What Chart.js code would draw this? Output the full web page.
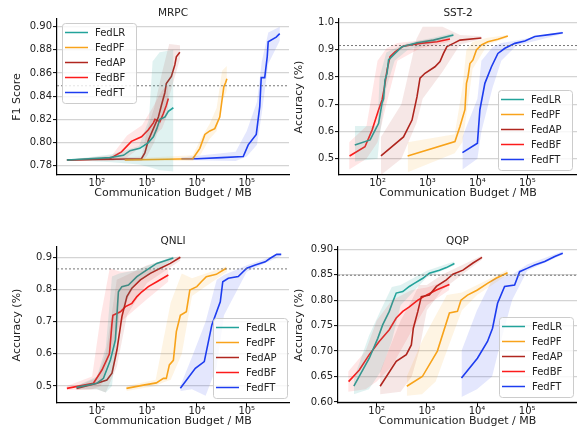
<!DOCTYPE html>
<html>
<head>
<meta charset="utf-8">
<script src="https://cdn.jsdelivr.net/npm/chart.js@4.4.1/dist/chart.umd.min.js"></script>
<style>
  body { margin: 0; background: #fff; }
  .panel { position: absolute; }
</style>
</head>
<body>
<div class="panel" style="left:0px;top:0px"><canvas id="c0" width="290" height="200"></canvas></div>
<div class="panel" style="left:288px;top:0px"><canvas id="c1" width="289" height="200"></canvas></div>
<div class="panel" style="left:0px;top:228px"><canvas id="c2" width="290" height="200"></canvas></div>
<div class="panel" style="left:288px;top:228px"><canvas id="c3" width="289" height="200"></canvas></div>
<script>
// Methods and colours (legend order)
const methods = ["FedLR", "FedPF", "FedAP", "FedBF", "FedFT"];
const lineColors = ["#22a39b", "#f8a31b", "#b0261f", "#fc1b1b", "#1d3df0"];
const bandColors = ["rgba(34,163,155,0.14)", "rgba(248,163,27,0.12)", "rgba(176,38,31,0.11)", "rgba(252,27,27,0.11)", "rgba(29,61,240,0.12)"];

// shared x ticks (MB)
const budgetTicks = [100, 1000, 10000, 100000];
const budgetLabels = ["10\u00b2", "10\u00b3", "10\u2074", "10\u2075"];

// ---------- MRPC ----------
const mrpcBudget = [
  [25, 180, 340, 460, 720, 1070, 1350, 1580, 1820, 2290, 2690, 3390],
  [360, 8300, 11500, 14500, 18200, 22900, 28800, 31600, 34700, 38000, 40000],
  [25, 780, 910, 1070, 1350, 1700, 1950, 2290, 2450, 3090, 3630, 3890, 4570],
  [25, 180, 310, 490, 780, 1070, 1350, 1450, 1820, 2140, 2450, 2690],
  [4900, 10000, 31600, 85000, 107000, 155000, 182000, 195000, 229000, 257000, 269000, 389000, 457000],
];
const mrpcScore = [
  [0.785, 0.787, 0.789, 0.793, 0.795, 0.800, 0.805, 0.812, 0.820, 0.822, 0.827, 0.830],
  [0.785, 0.786, 0.795, 0.807, 0.810, 0.812, 0.822, 0.835, 0.848, 0.852, 0.855],
  [0.785, 0.786, 0.791, 0.802, 0.812, 0.822, 0.832, 0.843, 0.851, 0.857, 0.867, 0.874, 0.878],
  [0.785, 0.786, 0.792, 0.801, 0.805, 0.811, 0.817, 0.820, 0.818, 0.825, 0.832, 0.838],
  [0.786, 0.786, 0.787, 0.788, 0.798, 0.807, 0.831, 0.856, 0.856, 0.874, 0.887, 0.891, 0.894],
];
const mrpcBandBudget = [
  [25, 200, 700, 1100, 1300, 1800, 3400],
  [360, 8300, 12000, 18000, 25000, 32000, 40000],
  [25, 780, 1000, 1400, 2000, 2800, 4600],
  [25, 200, 400, 800, 1300, 2000, 2700],
  [4900, 60000, 100000, 160000, 200000, 270000, 460000],
];
const mrpcBandLow = [
  [0.785, 0.783, 0.781, 0.779, 0.778, 0.776, 0.775],
  [0.784, 0.784, 0.790, 0.803, 0.810, 0.835, 0.845],
  [0.785, 0.784, 0.788, 0.800, 0.820, 0.840, 0.872],
  [0.785, 0.784, 0.787, 0.797, 0.805, 0.812, 0.826],
  [0.785, 0.784, 0.788, 0.798, 0.825, 0.868, 0.888],
];
const mrpcBandHigh = [
  [0.785, 0.790, 0.797, 0.820, 0.870, 0.878, 0.880],
  [0.786, 0.789, 0.803, 0.816, 0.830, 0.862, 0.866],
  [0.785, 0.788, 0.810, 0.830, 0.860, 0.885, 0.884],
  [0.785, 0.789, 0.806, 0.815, 0.830, 0.845, 0.850],
  [0.787, 0.792, 0.810, 0.835, 0.870, 0.895, 0.900],
];
const mrpcTicks = [0.78, 0.80, 0.82, 0.84, 0.86, 0.88, 0.90];
const mrpcTarget = 0.849;

// ---------- SST-2 ----------
const sstBudget = [
  [35, 71, 105, 123, 132, 141, 155, 166, 224, 309, 617, 1320, 3310],
  [400, 3550, 4470, 5620, 6030, 6460, 7080, 8130, 9550, 12000, 16200, 25700, 40700],
  [117, 331, 490, 617, 708, 891, 1410, 1780, 2090, 2450, 3310, 4470, 12000],
  [27.5, 56, 78, 105, 123, 138, 155, 178, 224, 331, 708, 1550, 2820],
  [5010, 10000, 11200, 14100, 19100, 25700, 35500, 56200, 89100, 141000, 302000, 513000],
];
const sstScore = [
  [0.55, 0.569, 0.63, 0.704, 0.72, 0.79, 0.814, 0.863, 0.887, 0.912, 0.926, 0.936, 0.955],
  [0.51, 0.563, 0.618, 0.68, 0.777, 0.80, 0.85, 0.863, 0.90, 0.918, 0.93, 0.939, 0.951],
  [0.51, 0.58, 0.642, 0.728, 0.796, 0.814, 0.838, 0.857, 0.887, 0.912, 0.924, 0.936, 0.944],
  [0.51, 0.544, 0.606, 0.68, 0.716, 0.765, 0.826, 0.875, 0.893, 0.914, 0.924, 0.93, 0.94],
  [0.522, 0.557, 0.68, 0.777, 0.838, 0.887, 0.906, 0.924, 0.933, 0.949, 0.957, 0.963],
];
const sstBandBudget = [
  [35, 100, 110, 150, 220, 400, 1300, 3300],
  [400, 3500, 5000, 6000, 8000, 16000, 40000],
  [117, 300, 600, 800, 2000, 4500, 12000],
  [27, 60, 100, 150, 250, 700, 2800],
  [5000, 10000, 12000, 20000, 30000, 60000, 500000],
];
const sstBandLow = [
  [0.49, 0.50, 0.58, 0.76, 0.86, 0.90, 0.925, 0.948],
  [0.45, 0.52, 0.56, 0.66, 0.83, 0.92, 0.945],
  [0.44, 0.50, 0.63, 0.72, 0.82, 0.92, 0.94],
  [0.46, 0.50, 0.56, 0.70, 0.86, 0.905, 0.93],
  [0.46, 0.50, 0.60, 0.76, 0.86, 0.915, 0.958],
];
const sstBandHigh = [
  [0.62, 0.62, 0.80, 0.89, 0.905, 0.925, 0.945, 0.962],
  [0.56, 0.59, 0.76, 0.90, 0.93, 0.945, 0.955],
  [0.58, 0.70, 0.94, 0.985, 0.985, 0.955, 0.95],
  [0.56, 0.62, 0.86, 0.905, 0.925, 0.935, 0.948],
  [0.58, 0.72, 0.86, 0.91, 0.925, 0.935, 0.968],
];
const sstTicks = [0.5, 0.6, 0.7, 0.8, 0.9, 1.0];
const sstTarget = 0.916;

// ---------- QNLI ----------
const qnliBudget = [
  [39, 100, 135, 186, 234, 269, 316, 427, 631, 1000, 1580, 3390],
  [389, 851, 1550, 2140, 2450, 2820, 3390, 3890, 4680, 6170, 7240, 10000, 12300, 15500, 24500, 38900],
  [39, 100, 158, 200, 251, 316, 398, 501, 741, 1170, 1860, 2950, 4680],
  [25, 85, 126, 178, 200, 209, 295, 372, 501, 631, 794, 1070, 1580, 2690],
  [4680, 9330, 14100, 20000, 29500, 33100, 42700, 67600, 100000, 148000, 234000, 295000, 398000, 490000],
];
const qnliScore = [
  [0.496, 0.509, 0.524, 0.581, 0.643, 0.793, 0.809, 0.814, 0.84, 0.861, 0.881, 0.898],
  [0.493, 0.503, 0.51, 0.524, 0.524, 0.566, 0.58, 0.669, 0.72, 0.731, 0.798, 0.809, 0.824, 0.84, 0.847, 0.866],
  [0.493, 0.509, 0.519, 0.54, 0.612, 0.716, 0.778, 0.804, 0.83, 0.85, 0.866, 0.881, 0.90],
  [0.493, 0.509, 0.55, 0.60, 0.695, 0.72, 0.731, 0.747, 0.757, 0.778, 0.793, 0.809, 0.824, 0.845],
  [0.493, 0.555, 0.576, 0.69, 0.762, 0.824, 0.835, 0.84, 0.866, 0.876, 0.886, 0.897, 0.909, 0.909],
];
const qnliBandBudget = [
  [39, 100, 150, 200, 280, 600, 3400],
  [389, 1500, 2000, 3000, 5000, 8000, 40000],
  [39, 100, 150, 250, 400, 1000, 4700],
  [25, 80, 120, 180, 300, 1000, 2700],
  [4680, 8000, 15000, 25000, 35000, 100000, 490000],
];
const qnliBandLow = [
  [0.49, 0.49, 0.48, 0.50, 0.72, 0.82, 0.893],
  [0.485, 0.50, 0.51, 0.52, 0.60, 0.78, 0.855],
  [0.488, 0.49, 0.48, 0.56, 0.72, 0.82, 0.89],
  [0.488, 0.49, 0.50, 0.60, 0.70, 0.77, 0.825],
  [0.485, 0.49, 0.47, 0.56, 0.72, 0.855, 0.905],
];
const qnliBandHigh = [
  [0.50, 0.53, 0.62, 0.84, 0.85, 0.86, 0.903],
  [0.50, 0.52, 0.62, 0.76, 0.85, 0.835, 0.872],
  [0.50, 0.525, 0.60, 0.83, 0.845, 0.875, 0.905],
  [0.50, 0.53, 0.72, 0.865, 0.855, 0.86, 0.865],
  [0.50, 0.59, 0.70, 0.83, 0.845, 0.875, 0.912],
];
const qnliTicks = [0.5, 0.6, 0.7, 0.8, 0.9];
const qnliTarget = 0.864;

// ---------- QQP ----------
const qqpBudget = [
  [35, 71, 105, 132, 178, 209, 245, 331, 447, 562, 832, 1120, 1780, 2450, 3550],
  [398, 813, 1620, 2820, 4070, 4790, 6460, 10200, 16200, 24000, 40700],
  [117, 245, 389, 490, 537, 661, 776, 1120, 1550, 2450, 3310, 5250, 8320, 12600],
  [27.5, 45, 71, 112, 178, 245, 331, 447, 661, 977, 1550, 2820],
  [4900, 10200, 16200, 20400, 25700, 35500, 56200, 70800, 102000, 141000, 224000, 355000, 513000],
];
const qqpScore = [
  [0.631, 0.686, 0.725, 0.752, 0.778, 0.797, 0.814, 0.817, 0.827, 0.833, 0.843, 0.853, 0.859, 0.864, 0.872],
  [0.631, 0.65, 0.70, 0.775, 0.778, 0.80, 0.81, 0.82, 0.833, 0.843, 0.854],
  [0.631, 0.68, 0.693, 0.712, 0.745, 0.778, 0.807, 0.81, 0.827, 0.84, 0.851, 0.859, 0.873, 0.884],
  [0.64, 0.663, 0.693, 0.719, 0.742, 0.765, 0.778, 0.787, 0.80, 0.81, 0.82, 0.831],
  [0.647, 0.686, 0.719, 0.745, 0.794, 0.827, 0.83, 0.856, 0.863, 0.869, 0.876, 0.886, 0.892],
];
const qqpBandBudget = [
  [35, 70, 120, 200, 300, 1000, 3500],
  [398, 800, 1500, 2500, 5000, 10000, 40700],
  [117, 300, 500, 700, 1000, 2000, 12600],
  [27, 60, 100, 200, 500, 1000, 2800],
  [4900, 10000, 20000, 30000, 50000, 100000, 513000],
];
const qqpBandLow = [
  [0.615, 0.625, 0.66, 0.72, 0.79, 0.845, 0.868],
  [0.612, 0.615, 0.64, 0.70, 0.78, 0.81, 0.85],
  [0.615, 0.62, 0.65, 0.70, 0.78, 0.82, 0.88],
  [0.62, 0.625, 0.64, 0.67, 0.74, 0.79, 0.82],
  [0.61, 0.625, 0.65, 0.72, 0.80, 0.858, 0.89],
];
const qqpBandHigh = [
  [0.645, 0.73, 0.78, 0.826, 0.83, 0.858, 0.876],
  [0.65, 0.72, 0.77, 0.81, 0.815, 0.83, 0.86],
  [0.66, 0.76, 0.80, 0.83, 0.83, 0.85, 0.888],
  [0.66, 0.70, 0.76, 0.80, 0.82, 0.825, 0.84],
  [0.70, 0.78, 0.84, 0.845, 0.85, 0.87, 0.896],
];
const qqpTicks = [0.60, 0.65, 0.70, 0.75, 0.80, 0.85, 0.90];
const qqpTarget = 0.849;

Chart.defaults.font.family = '"DejaVu Sans", sans-serif';
Chart.defaults.color = "#222";

function toPoints(xs, ys) {
  return xs.map((x, i) => ({ x: x, y: ys[i] }));
}

// draws panel title and the framed legend inside the plot
const panelDecor = {
  id: "panelDecor",
  afterDraw(chart, args, opts) {
    const ctx = chart.ctx;
    const a = chart.chartArea;
    ctx.save();
    ctx.fillStyle = "#222";
    ctx.font = '10.5px "DejaVu Sans"';
    ctx.textAlign = "center";
    ctx.textBaseline = "middle";
    ctx.fillText(opts.title, (a.left + a.right) / 2, a.top - 6);

    const w = 74, h = 80;
    const x0 = opts.corner === "tl" ? a.left + opts.dx : a.right - opts.dx - w;
    const y0 = opts.corner === "tl" ? a.top + opts.dy : a.bottom - opts.dy - h;
    ctx.fillStyle = "rgba(255,255,255,0.8)";
    ctx.strokeStyle = "#cccccc";
    ctx.lineWidth = 1;
    ctx.beginPath();
    ctx.roundRect(Math.round(x0) + 0.5, Math.round(y0) + 0.5, w, h, 3);
    ctx.fill();
    ctx.stroke();
    ctx.font = '10px "DejaVu Sans"';
    ctx.textAlign = "left";
    methods.forEach((m, i) => {
      const yy = y0 + 9.5 + i * 15;
      ctx.strokeStyle = lineColors[i];
      ctx.lineWidth = 1.5;
      ctx.beginPath();
      ctx.moveTo(x0 + 3, yy);
      ctx.lineTo(x0 + 26, yy);
      ctx.stroke();
      ctx.fillStyle = "#222";
      ctx.fillText(m, x0 + 33, yy + 0.5);
    });
    ctx.restore();
  },
};

function makePanel(p) {
  const datasets = [];
  // shaded bands first
  for (let i = 0; i < methods.length; i++) {
    datasets.push({
      data: toPoints(p.bandX[i], p.bandLo[i]),
      borderColor: "transparent",
      borderWidth: 0,
      pointRadius: 0,
      fill: false,
    });
    datasets.push({
      data: toPoints(p.bandX[i], p.bandHi[i]),
      borderColor: "transparent",
      borderWidth: 0,
      pointRadius: 0,
      backgroundColor: bandColors[i],
      fill: "-1",
    });
  }
  // target accuracy line
  datasets.push({
    data: [{ x: p.xmin, y: p.target }, { x: p.xmax, y: p.target }],
    borderColor: "#777",
    borderWidth: 1,
    borderDash: [2, 2],
    pointRadius: 0,
    fill: false,
  });
  for (let i = 0; i < methods.length; i++) {
    datasets.push({
      label: methods[i],
      data: toPoints(p.x[i], p.y[i]),
      borderColor: lineColors[i],
      borderWidth: 1.6,
      pointRadius: 0,
      fill: false,
    });
  }

  new Chart(document.getElementById(p.id), {
    type: "line",
    data: { datasets: datasets },
    plugins: [panelDecor],
    options: {
      responsive: false,
      animation: false,
      events: [],
      layout: { padding: { left: 0, top: 19, right: p.padRight, bottom: 0 } },
      plugins: {
        legend: { display: false },
        tooltip: { enabled: false },
        filler: { propagate: false },
        panelDecor: { title: p.title, corner: p.corner, dx: p.dx, dy: p.dy },
      },
      scales: {
        x: {
          type: "logarithmic",
          min: p.xmin,
          max: p.xmax,
          afterBuildTicks: (s) => { s.ticks = budgetTicks.map((v) => ({ value: v })); },
          afterFit: (s) => { s.height = 25; },
          ticks: {
            autoSkip: false,
            maxRotation: 0,
            padding: -2,
            font: { size: 10 },
            color: "#222",
            callback: (v) => budgetLabels[budgetTicks.indexOf(v)],
          },
          grid: { drawOnChartArea: false, tickLength: 4, color: "#000", lineWidth: 1 },
          border: { color: "#000", width: 1.2 },
          title: {
            display: true,
            text: "Communication Budget / MB",
            font: { size: 11 },
            color: "#222",
            padding: { top: 0, bottom: 0 },
          },
        },
        y: {
          min: p.ymin,
          max: p.ymax,
          afterBuildTicks: (s) => { s.ticks = p.yTicks.map((v) => ({ value: v })); },
          afterFit: (s) => { s.width = p.chartLeft; },
          ticks: {
            padding: 1,
            font: { size: 10 },
            color: "#222",
            callback: (v) => v.toFixed(p.dec),
          },
          grid: { color: "#d4d4d4", lineWidth: 1.2, tickLength: 4, tickColor: "#000", tickWidth: 1 },
          border: { color: "#000", width: 1.2 },
          title: {
            display: true,
            text: p.yTitle,
            font: { size: 11 },
            color: "#222",
            padding: { top: p.yTitlePad, bottom: 0 },
          },
        },
      },
    },
  });
}

makePanel({
  id: "c0", title: "MRPC", yTitle: "F1 Score", yTitlePad: 11,
  x: mrpcBudget, y: mrpcScore, bandX: mrpcBandBudget, bandLo: mrpcBandLow, bandHi: mrpcBandHigh,
  yTicks: mrpcTicks, dec: 2, target: mrpcTarget,
  xmin: Math.pow(10, 1.2), xmax: Math.pow(10, 5.846), ymin: 0.772, ymax: 0.9066,
  chartLeft: 57, padRight: 1, corner: "tl", dx: 5, dy: 4,
});
makePanel({
  id: "c1", title: "SST-2", yTitle: "Accuracy (%)", yTitlePad: 5,
  x: sstBudget, y: sstScore, bandX: sstBandBudget, bandLo: sstBandLow, bandHi: sstBandHigh,
  yTicks: sstTicks, dec: 1, target: sstTarget,
  xmin: Math.pow(10, 1.228), xmax: Math.pow(10, 5.994), ymin: 0.44, ymax: 1.0136,
  chartLeft: 51, padRight: 0, corner: "br", dx: 5, dy: 5,
});
makePanel({
  id: "c2", title: "QNLI", yTitle: "Accuracy (%)", yTitlePad: 11,
  x: qnliBudget, y: qnliScore, bandX: qnliBandBudget, bandLo: qnliBandLow, bandHi: qnliBandHigh,
  yTicks: qnliTicks, dec: 1, target: qnliTarget,
  xmin: Math.pow(10, 1.2), xmax: Math.pow(10, 5.846), ymin: 0.4475, ymax: 0.932,
  chartLeft: 57, padRight: 1, corner: "br", dx: 2, dy: 5,
});
makePanel({
  id: "c3", title: "QQP", yTitle: "Accuracy (%)", yTitlePad: 5,
  x: qqpBudget, y: qqpScore, bandX: qqpBandBudget, bandLo: qqpBandLow, bandHi: qqpBandHigh,
  yTicks: qqpTicks, dec: 2, target: qqpTarget,
  xmin: Math.pow(10, 1.228), xmax: Math.pow(10, 5.994), ymin: 0.598, ymax: 0.9045,
  chartLeft: 50, padRight: 0, corner: "br", dx: 4, dy: 6,
});
</script>
</body>
</html>
